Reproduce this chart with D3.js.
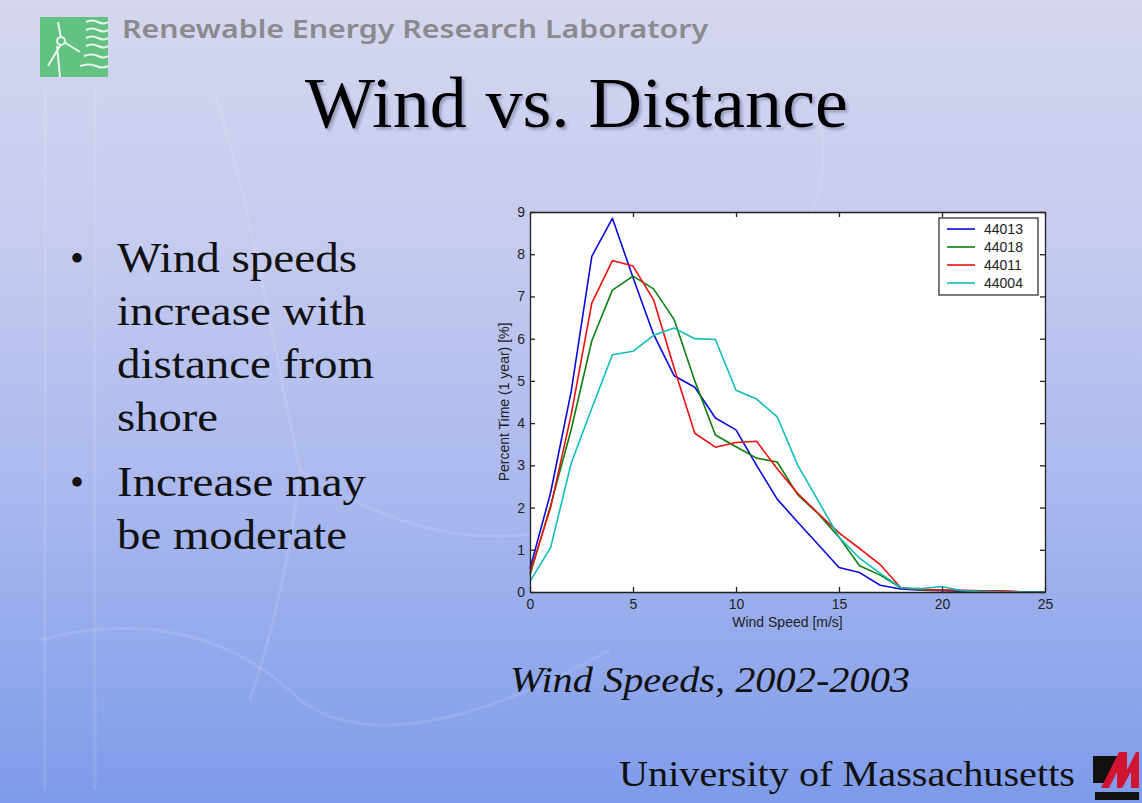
<!DOCTYPE html>
<html>
<head>
<meta charset="utf-8">
<script src="https://cdn.jsdelivr.net/npm/d3@7"></script>
<style>
  html, body { margin: 0; padding: 0; overflow: hidden; background: #b9c3ec; }
  svg { display: block; }
</style>
</head>
<body>
<script>
// Wind speed distributions (percent of one year) per buoy, 2002-2003
const speeds   = [0, 1, 2, 3, 4, 5, 6, 7, 8, 9, 10, 11, 12, 13, 14, 15, 16, 17, 18, 19, 20, 21, 22, 23, 24, 25];
const buoy44013 = [0.55, 2.35, 4.75, 7.95, 8.85, 7.45, 6.10, 5.12, 4.85, 4.12, 3.84, 3.00, 2.20, 1.65, 1.12, 0.58, 0.46, 0.16, 0.07, 0.04, 0.03, 0.02, 0.01, 0, 0, 0];
const buoy44018 = [0.40, 2.05, 3.85, 5.95, 7.15, 7.48, 7.18, 6.45, 5.00, 3.72, 3.44, 3.17, 3.08, 2.30, 1.85, 1.30, 0.62, 0.40, 0.10, 0.05, 0.04, 0.03, 0.02, 0.01, 0, 0];
const buoy44011 = [0.45, 2.00, 4.20, 6.84, 7.85, 7.72, 6.92, 5.30, 3.76, 3.43, 3.54, 3.57, 2.92, 2.33, 1.86, 1.40, 1.03, 0.65, 0.10, 0.06, 0.05, 0.04, 0.03, 0.03, 0, 0];
const buoy44004 = [0.25, 1.05, 3.05, 4.35, 5.62, 5.70, 6.08, 6.25, 6.00, 5.98, 4.78, 4.57, 4.15, 3.00, 2.15, 1.30, 0.80, 0.44, 0.10, 0.08, 0.13, 0.03, 0.01, 0, 0, 0];

const seriesNames  = ["44013", "44018", "44011", "44004"];
const seriesValues = [buoy44013, buoy44018, buoy44011, buoy44004];
const seriesColors = ["#0a0adf", "#0c800c", "#f01010", "#10bcbc"];

const xTicks = [0, 5, 10, 15, 20, 25];
const yTicks = [0, 1, 2, 3, 4, 5, 6, 7, 8, 9];

const bulletGroups = [
  ["Wind speeds", "increase with", "distance from", "shore"],
  ["Increase may", "be moderate"]
];

const W = 1142, H = 803;
const svg = d3.select("body").append("svg").attr("width", W).attr("height", H);
const defs = svg.append("defs");

// slide background
const bg = defs.append("linearGradient").attr("id", "bg").attr("x1", 0).attr("y1", 0).attr("x2", 0).attr("y2", 1);
[[0, "#d5d7ef"], [0.3, "#c6cbef"], [0.62, "#a9b8ee"], [1, "#7e9be9"]]
  .forEach(([o, c]) => bg.append("stop").attr("offset", o).attr("stop-color", c));
svg.append("rect").attr("width", W).attr("height", H).attr("fill", "url(#bg)");

// soft shadow under the title
defs.append("filter").attr("id", "shadow").attr("x", "-5%").attr("y", "-20%").attr("width", "110%").attr("height", "140%")
  .append("feDropShadow").attr("dx", 2.5).attr("dy", 2.5).attr("stdDeviation", 0.8)
  .attr("flood-color", "#6f779c").attr("flood-opacity", 0.55);

// faint watermark strokes
const wm = svg.append("g").attr("fill", "none").attr("stroke", "#ffffff").attr("stroke-opacity", 0.11).attr("stroke-width", 3);
wm.append("path").attr("d", "M45,85 L45,790");
wm.append("path").attr("d", "M95,85 L95,790");
wm.append("path").attr("d", "M215,95 C250,200 270,330 300,470");
wm.append("path").attr("d", "M300,470 C380,520 470,560 600,520");
wm.append("path").attr("d", "M300,470 C290,560 270,640 250,700");
wm.append("path").attr("d", "M40,640 C150,610 240,640 300,700 C380,760 520,700 610,650");
wm.append("path").attr("d", "M820,120 C840,230 760,290 700,300");

// lab logo
const logo = svg.append("g");
logo.append("rect").attr("x", 40).attr("y", 17).attr("width", 68).attr("height", 60).attr("fill", "#63c282");
logo.append("g").attr("stroke", "#eaf7ee").attr("stroke-width", 2).attr("fill", "none")
  .call(g => {
    g.append("path").attr("d", "M58,22 L61,38 M61,44 L48,66 M64,42 L80,52 M57,46 L60,77");
    g.append("circle").attr("cx", 61).attr("cy", 41).attr("r", 4);
    g.append("path").attr("d", "M86,22 q6,-3 12,0 t10,0 M86,30 q6,-3 12,0 t10,0 M86,38 q6,-3 12,0 t10,0 M86,46 q6,-3 12,0 t10,0 M84,56 q8,-3 14,0 t10,0 M80,66 q10,-3 16,0 t12,0");
  });

svg.append("text").attr("x", 122).attr("y", 38)
  .attr("font-family", "'Noto Sans', 'DejaVu Sans', sans-serif").attr("font-weight", 600)
  .attr("font-size", 26).attr("fill", "#8a8a8e")
  .attr("textLength", 586).attr("lengthAdjust", "spacingAndGlyphs")
  .text("Renewable Energy Research Laboratory");

const serif = "'Liberation Serif', 'Times New Roman', serif";
svg.append("text").attr("x", 305).attr("y", 127)
  .attr("font-family", serif).attr("font-size", 71).attr("fill", "#000")
  .attr("textLength", 543).attr("lengthAdjust", "spacingAndGlyphs")
  .attr("filter", "url(#shadow)")
  .text("Wind vs. Distance");

// bullet list
const bulletBase = [272, 496];
const lineWidths = [[240, 249, 257, 101], [249, 230]];
bulletGroups.forEach((lines, gi) => {
  svg.append("text").attr("x", 70).attr("y", bulletBase[gi])
    .attr("font-family", serif).attr("font-size", 40).attr("fill", "#111").text("•");
  lines.forEach((t, li) => {
    svg.append("text").attr("x", 117).attr("y", bulletBase[gi] + li * 53)
      .attr("font-family", serif).attr("font-size", 42).attr("fill", "#111")
      .attr("textLength", lineWidths[gi][li]).attr("lengthAdjust", "spacingAndGlyphs")
      .text(t);
  });
});

svg.append("text").attr("x", 510).attr("y", 692)
  .attr("font-family", serif).attr("font-style", "italic").attr("font-size", 36).attr("fill", "#111")
  .attr("textLength", 400).attr("lengthAdjust", "spacingAndGlyphs")
  .text("Wind Speeds, 2002-2003");

svg.append("text").attr("x", 619).attr("y", 786)
  .attr("font-family", serif).attr("font-size", 36).attr("fill", "#111")
  .attr("textLength", 456).attr("lengthAdjust", "spacingAndGlyphs")
  .text("University of Massachusetts");

// university mark
const um = svg.append("g");
um.append("path").attr("d", "M1093,756 L1119,756 L1106,783 L1093,783 Z").attr("fill", "#111");
um.append("path").attr("d", "M1101,788 L1119,752 L1127,752 L1127,770 L1136,752 L1139,752 L1139,788 L1131,788 L1131,772 L1122,788 L1117,788 L1117,772 L1109,788 Z").attr("fill", "#d01431");
um.append("rect").attr("x", 1095).attr("y", 792).attr("width", 44).attr("height", 8).attr("fill", "#111");

// ---- chart ----
const x = d3.scaleLinear().domain([0, 25]).range([530, 1045]);
const y = d3.scaleLinear().domain([0, 9]).range([592, 212]);
const sans = "'Liberation Sans', Arial, sans-serif";

svg.append("rect").attr("x", x(0)).attr("y", y(9)).attr("width", x(25) - x(0)).attr("height", y(0) - y(9))
  .attr("fill", "#ffffff");

const line = d3.line().x((d, i) => x(speeds[i])).y(d => y(d));
const plot = svg.append("g");
seriesValues.forEach((vals, k) => {
  plot.append("path").datum(vals).attr("d", line)
    .attr("fill", "none").attr("stroke", seriesColors[k]).attr("stroke-width", 1.6)
    .attr("stroke-linejoin", "round");
});

function styleAxis(g) {
  g.select(".domain").attr("stroke", "#222").attr("stroke-width", 1.3);
  g.selectAll(".tick line").attr("stroke", "#222").attr("stroke-width", 1.3);
  g.selectAll(".tick text").attr("fill", "#222").attr("font-family", sans).attr("font-size", 14);
}

svg.append("g").attr("transform", `translate(0,${y(0)})`)
  .call(d3.axisBottom(x).tickValues(xTicks).tickSizeInner(-5).tickSizeOuter(0).tickPadding(7))
  .call(styleAxis);
svg.append("g").attr("transform", `translate(0,${y(9)})`)
  .call(d3.axisTop(x).tickValues(xTicks).tickSizeInner(-5).tickSizeOuter(0).tickFormat(""))
  .call(styleAxis);
svg.append("g").attr("transform", `translate(${x(0)},0)`)
  .call(d3.axisLeft(y).tickValues(yTicks).tickSizeInner(-5).tickSizeOuter(0).tickPadding(5))
  .call(styleAxis);
svg.append("g").attr("transform", `translate(${x(25)},0)`)
  .call(d3.axisRight(y).tickValues(yTicks).tickSizeInner(-5).tickSizeOuter(0).tickFormat(""))
  .call(styleAxis);

svg.append("text").attr("x", (x(0) + x(25)) / 2).attr("y", 627).attr("text-anchor", "middle")
  .attr("font-family", sans).attr("font-size", 14).attr("fill", "#222")
  .text("Wind Speed [m/s]");
svg.append("text").attr("transform", `translate(509,${(y(0) + y(9)) / 2}) rotate(-90)`).attr("text-anchor", "middle")
  .attr("font-family", sans).attr("font-size", 14).attr("fill", "#222")
  .text("Percent Time (1 year) [%]");

// legend
const lg = svg.append("g");
lg.append("rect").attr("x", 939).attr("y", 218).attr("width", 99).attr("height", 77)
  .attr("fill", "#fff").attr("stroke", "#222").attr("stroke-width", 1.2);
seriesNames.forEach((n, k) => {
  const by = 233.5 + k * 18;
  lg.append("line").attr("x1", 947).attr("x2", 975).attr("y1", by - 4.5).attr("y2", by - 4.5)
    .attr("stroke", seriesColors[k]).attr("stroke-width", 1.6);
  lg.append("text").attr("x", 984).attr("y", by)
    .attr("font-family", sans).attr("font-size", 14).attr("fill", "#222").text(n);
});
</script>
</body>
</html>
